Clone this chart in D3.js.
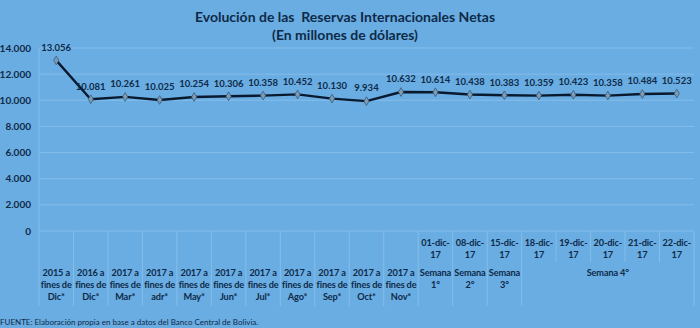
<!DOCTYPE html>
<html><head><meta charset="utf-8">
<script src="https://cdn.jsdelivr.net/npm/d3@7"></script>
<style>
html,body{margin:0;padding:0;background:#69ade3;}
svg{display:block;}
text{font-family:Lato,"Open Sans",sans-serif;fill:#0f2a47;}
</style></head><body>
<script>
const categories = [
  ["2015 a","fines de","Dic*"],["2016 a","fines de","Dic*"],["2017 a","fines de","Mar*"],
  ["2017 a","fines de","adr*"],["2017 a","fines de","May*"],["2017 a","fines de","Jun*"],
  ["2017 a","fines de","Jul*"],["2017 a","fines de","Ago*"],["2017 a","fines de","Sep*"],
  ["2017 a","fines de","Oct*"],["2017 a","fines de","Nov*"],
  ["01-dic-","17"],["08-dic-","17"],["15-dic-","17"],["18-dic-","17"],
  ["19-dic-","17"],["20-dic-","17"],["21-dic-","17"],["22-dic-","17"]
];
const values = [13056,10081,10261,10025,10254,10306,10358,10452,10130,9934,10632,
  10614,10438,10383,10359,10423,10358,10484,10523];
// second-level groups: [label lines, first index, last index]
const groups = [
  [["Semana","1°"],11,11],[["Semana","2°"],12,12],[["Semana","3°"],13,13],[["Semana 4°"],14,18]
];
const yTicks = [0,2000,4000,6000,8000,10000,12000,14000];
const title = "Evolución de las  Reservas Internacionales Netas";
const subtitle = "(En millones de dólares)";
const source = "FUENTE: Elaboración propia en base a datos del Banco Central de Bolivia.";

const W=700,H=328;
const svg=d3.select("body").append("svg").attr("width",W).attr("height",H);
svg.append("rect").attr("width",W).attr("height",H).attr("fill","#69ade3");

const fmt = v => d3.format(",")(v).replace(/,/g,".");
const x=d3.scaleBand().domain(d3.range(categories.length)).range([39,694]).padding(0);
const y=d3.scaleLinear().domain([0,14000]).range([231,48]);

// gridlines
svg.append("g").selectAll("line").data(yTicks).join("line")
  .attr("x1",39).attr("x2",694).attr("y1",d=>y(d)).attr("y2",d=>y(d))
  .attr("stroke","#85bdea").attr("stroke-width",1);
svg.append("line").attr("x1",39).attr("x2",39).attr("y1",y(14000)).attr("y2",231)
  .attr("stroke","#85bdea");

// y tick labels
svg.append("g").selectAll("text").data(yTicks).join("text")
  .attr("x",31).attr("y",d=>y(d)).attr("dy","0.35em").attr("text-anchor","end")
  .attr("font-size",10).attr("font-weight","bold").text(d=>fmt(d));

// category dividers
const bw=x.bandwidth();
const divs=[];
for(let i=0;i<=categories.length;i++){
  const inGroup = groups.some(g=>i>g[1] && i<=g[2]);
  divs.push({x: i<categories.length? x(i) : x(categories.length-1)+bw, short: inGroup});
}
svg.append("g").selectAll("line").data(divs).join("line")
  .attr("x1",d=>d.x).attr("x2",d=>d.x).attr("y1",231).attr("y2",d=>d.short?262:306)
  .attr("stroke","#85bdea");

// category labels
const cl=svg.append("g");
const lblStyle=t=>t.attr("text-anchor","middle").attr("font-size",9.2).attr("font-weight","bold")
  .attr("letter-spacing","-0.15");
categories.forEach((c,i)=>{
  const y0 = c.length===3 ? 273 : 243;
  const t=lblStyle(cl.append("text")).attr("transform",`translate(${x(i)+bw/2},${y0})`);
  c.forEach((ln,k)=>t.append("tspan").attr("x",0).attr("y",k*12).attr("dy","0.35em").text(ln));
});
groups.forEach(g=>{
  const cx=(x(g[1])+x(g[2])+bw)/2;
  const t=lblStyle(cl.append("text")).attr("transform",`translate(${cx},273)`);
  g[0].forEach((ln,k)=>t.append("tspan").attr("x",0).attr("y",k*12).attr("dy","0.35em").text(ln));
});

// line
const line=d3.line().x((d,i)=>x(i)+bw/2).y(d=>y(d));
svg.append("path").datum(values).attr("d",line).attr("fill","none")
  .attr("stroke","#0a1a2e").attr("stroke-width",2.4).attr("stroke-linejoin","round");
svg.append("g").selectAll("path").data(values).join("path")
  .attr("d",d3.symbol(d3.symbolDiamond,22))
  .attr("transform",(d,i)=>`translate(${x(i)+bw/2},${y(d)})`)
  .attr("fill","#7d9cb6").attr("stroke","#3d5a75").attr("stroke-width",0.8);
// data labels
svg.append("g").selectAll("text").data(values).join("text")
  .attr("x",(d,i)=>x(i)+bw/2).attr("y",d=>y(d)-13).attr("text-anchor","middle")
  .attr("font-size",9.5).attr("font-weight","bold").attr("dy","0.35em").text(d=>fmt(d));

// title
svg.append("text").attr("x",345).attr("y",17).attr("text-anchor","middle").attr("dy","0.35em")
  .attr("font-size",14).attr("font-weight","bold").style("white-space","pre").text(title);
svg.append("text").attr("x",345).attr("y",35).attr("text-anchor","middle").attr("dy","0.35em")
  .attr("font-size",14).attr("font-weight","bold").text(subtitle);
svg.append("text").attr("x",0).attr("y",322).attr("dy","0.35em").attr("font-size",8).text(source);
</script>
</body></html>
